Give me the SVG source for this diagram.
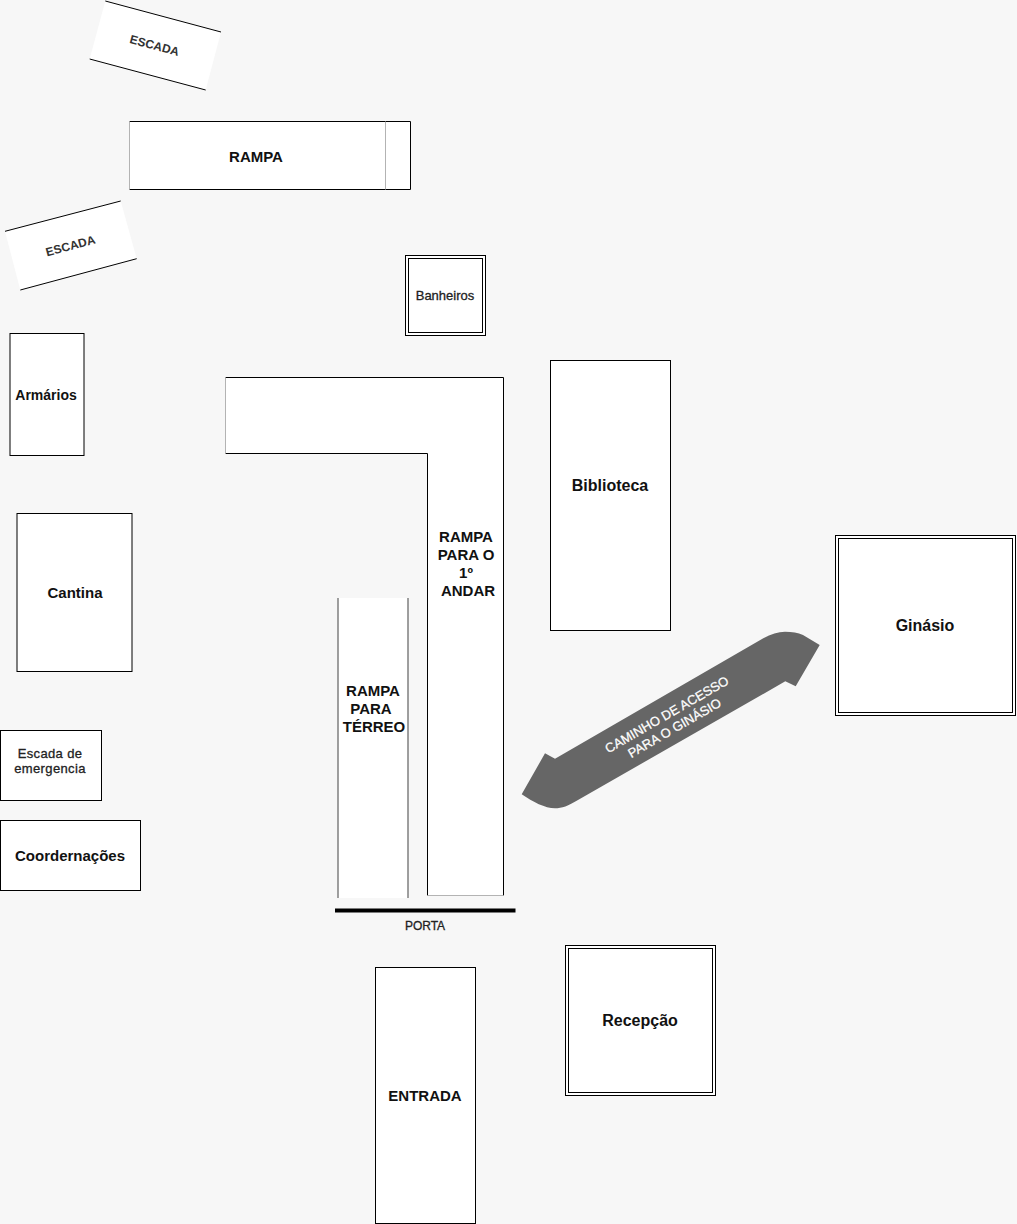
<svg xmlns="http://www.w3.org/2000/svg" width="1017" height="1224" viewBox="0 0 1017 1224">
<style>
text{font-family:"Liberation Sans",Arial,sans-serif;fill:#111;text-anchor:middle;font-weight:bold}
.b{fill:#fff;stroke:#000;stroke-width:1}
.w{fill:#fff;stroke:none}
.f15{font-size:15px}.f14{font-size:14px}.f16{font-size:16px}.f13{font-size:13px}.f12{font-size:12px}
.e{font-weight:normal;fill:#222;stroke:#222;stroke-width:.3}
.s{fill:#333}
.a{font-weight:normal;fill:#fff;stroke:#fff;stroke-width:.25}
</style>
<rect width="1017" height="1224" fill="#f7f7f7"/>
<g id="escada-top">
<polygon class="w" points="105.3,1 221,32 205.7,90 89.7,59"/>
<path d="M105.3,1L221,32M89.7,59L205.7,90" stroke="#000" fill="none"/>
<text class="f12 s" transform="translate(154.500,45.500) rotate(15)" y="4">ESCADA</text>
</g>
<g id="rampa">
<rect class="w" x="129.500" y="121.500" width="281" height="68"/>
<path d="M129.500,121.500H410.500V189.500H129.500" stroke="#000" fill="none"/>
<path d="M129.500,121.500V189.500M385.500,121.500V189.500" stroke="#b3b3b3" fill="none"/>
<text class="f15" x="256" y="161.500">RAMPA</text>
</g>
<g id="escada-left">
<polygon class="w" points="5,231.300 120.700,201 136.700,258.700 20.300,290"/>
<path d="M5,231.300L120.700,201M20.300,290L136.700,258.700" stroke="#000" fill="none"/>
<text class="f12 s" transform="translate(70.500,246) rotate(-15)" y="4">ESCADA</text>
</g>
<g id="banheiros">
<rect class="b" x="405.500" y="255.500" width="80" height="80"/>
<rect class="b" x="408.500" y="258.500" width="74" height="74"/>
<text class="f13 e" x="445" y="300">Banheiros</text>
</g>
<g id="armarios">
<rect class="b" x="10" y="333.500" width="74" height="122"/>
<text class="f14" x="46" y="399.500">Armários</text>
</g>
<g id="rampa-1-andar">
<path class="w" d="M225.500,377.500H503.500V895.500H427.500V453.500H225.500Z"/>
<path d="M225.500,377.500H503.500V895.500M427.500,895.500V453.500H225.500" fill="none" stroke="#000"/>
<path d="M225.500,377.500V453.500M427.500,895.500H503.500" fill="none" stroke="#b3b3b3"/>
<text class="f15" x="466" y="542">RAMPA</text>
<text class="f15" x="466" y="560">PARA O</text>
<text class="f15" x="466" y="578">1º</text>
<text class="f15" x="468" y="596">ANDAR</text>
</g>
<g id="biblioteca">
<rect class="b" x="550.500" y="360.500" width="120" height="270"/>
<text class="f16" x="610" y="491">Biblioteca</text>
</g>
<g id="cantina">
<rect class="b" x="17" y="513.500" width="115" height="158"/>
<text class="f15" x="75" y="598">Cantina</text>
</g>
<g id="ginasio">
<rect class="b" x="835.500" y="535.500" width="180" height="180"/>
<rect class="b" x="838.500" y="538.500" width="174" height="174"/>
<text class="f16" x="925" y="631">Ginásio</text>
</g>
<g id="rampa-terreo">
<rect class="w" x="338" y="598" width="70" height="300"/>
<path d="M338,598V898M408,598V898" stroke="#808080" stroke-width="1.500" fill="none"/>
<text class="f15" x="373" y="696">RAMPA</text>
<text class="f15" x="371" y="714">PARA</text>
<text class="f15" x="374" y="732">TÉRREO</text>
</g>
<g id="escada-emergencia">
<rect class="b" x="0.500" y="730.500" width="101" height="70"/>
<text class="f13 e" style="letter-spacing:.35px" x="50" y="758">Escada de</text>
<text class="f13 e" style="letter-spacing:.35px" x="50" y="773">emergencia</text>
</g>
<g id="coordenacoes">
<rect class="b" x="0.500" y="820.500" width="140" height="70"/>
<text class="f15" x="70" y="860.500">Coordernações</text>
</g>
<g id="connectors">
<g id="caminho">
<path fill="#666" d="M819.700,645L795.700,686.300L785.300,681.300L578,800C568,806 562,808.300 555,808.300C545,808.300 533,802 521.700,794.300L545,753.300L555,758.700L763.300,638.300C771,634 778,631.700 785,631.700C792,631.700 798,632.500 803,635Z"/>
<g transform="translate(670.500,721) rotate(-30)">
<text class="f13 a" y="-3">CAMINHO DE ACESSO</text>
<text class="f13 a" y="12.500">PARA O GINÁSIO</text>
</g>
</g>
</g>
<g id="porta">
<path d="M335,910.500H515.500" stroke="#000" stroke-width="4" fill="none"/>
<text class="f12 e" x="425" y="930">PORTA</text>
</g>
<g id="entrada">
<rect class="b" x="375.500" y="967.500" width="100" height="256"/>
<text class="f15" x="425" y="1101">ENTRADA</text>
</g>
<g id="recepcao">
<rect class="b" x="565.500" y="945.500" width="150" height="150"/>
<rect class="b" x="568.500" y="948.500" width="144" height="144"/>
<text class="f16" x="640" y="1026">Recepção</text>
</g>
</svg>
